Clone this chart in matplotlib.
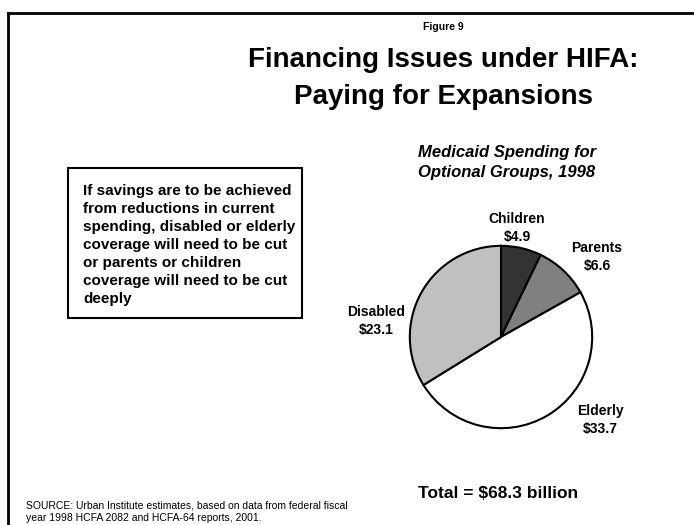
import matplotlib
matplotlib.use("Agg")
import matplotlib.pyplot as plt
from matplotlib.patches import Rectangle
from matplotlib.lines import Line2D

groups = ["Children", "Parents", "Elderly", "Disabled"]
spending = [4.9, 6.6, 33.7, 23.1]
colors = ["#333333", "#808080", "#ffffff", "#c0c0c0"]
total = 68.3

W, H = 694, 525
fig = plt.figure(figsize=(W / 100, H / 100), dpi=100)
fig.patch.set_facecolor("white")

def fx(x):
    return x / W

def fy(y):
    return 1 - y / H

bold = dict(family=["Liberation Sans", "DejaVu Sans"], weight="bold")

# page frame (left and top edges only visible)
fig.add_artist(Line2D([fx(8), fx(8)], [fy(13), 0], color="black", lw=2))
fig.add_artist(Line2D([fx(8), 1], [fy(13), fy(13)], color="black", lw=2))

fig.text(fx(443), fy(27), "Figure 9", ha="center", va="center", fontsize=7.5, **bold)
fig.text(fx(443), fy(60), "Financing Issues under HIFA:", ha="center", va="center",
         fontsize=20, **bold)
fig.text(fx(443), fy(97), "Paying for Expansions", ha="center", va="center",
         fontsize=20, **bold)

fig.text(fx(507), fy(153), "Medicaid Spending for", ha="center", va="center",
         fontsize=12, style="italic", **bold)
fig.text(fx(507), fy(172), "Optional Groups, 1998", ha="center", va="center",
         fontsize=12, style="italic", **bold)

# text box
fig.add_artist(Rectangle((fx(68), fy(318)), fx(302) - fx(68), fy(168) - fy(318),
                         transform=fig.transFigure, fill=False, ec="black", lw=1.5))
box_lines = ["If savings are to be achieved",
             "from reductions in current",
             "spending, disabled or elderly",
             "coverage will need to be cut",
             "or parents or children",
             "coverage will need to be cut",
             "deeply"]
fig.text(fx(83), fy(245), "\n".join(box_lines), ha="left", va="center", fontsize=11,
         linespacing=1.37, **bold)

# pie
ax = fig.add_axes([fx(408), fy(430), fx(594) - fx(408), fy(244) - fy(430)])
ax.pie(spending, colors=colors, startangle=90, counterclock=False, radius=1,
       wedgeprops=dict(edgecolor="black", linewidth=1.5))
ax.set_xlim(-1.02, 1.02)
ax.set_ylim(-1.02, 1.02)
ax.set_aspect("equal")
ax.axis("off")

label_pos = {"Children": (517, 228), "Parents": (597, 257),
             "Elderly": (600, 420), "Disabled": (376, 321)}
for g, v in zip(groups, spending):
    x, y = label_pos[g]
    fig.text(fx(x), fy(y), f"{g}\n${v}", ha="center", va="center", fontsize=10,
             linespacing=1.38, **bold)

fig.text(fx(498), fy(493), f"Total = ${total} billion", ha="center", va="center",
         fontsize=12.5, **bold)

src = dict(ha="left", va="center", fontsize=7.5, family=["Liberation Sans", "DejaVu Sans"])
fig.text(fx(26), fy(505), "SOURCE: Urban Institute estimates, based on data from federal fiscal", **src)
fig.text(fx(26), fy(518), "year 1998 HCFA 2082 and HCFA-64 reports, 2001.", **src)

fig.savefig("out.png", dpi=100)
